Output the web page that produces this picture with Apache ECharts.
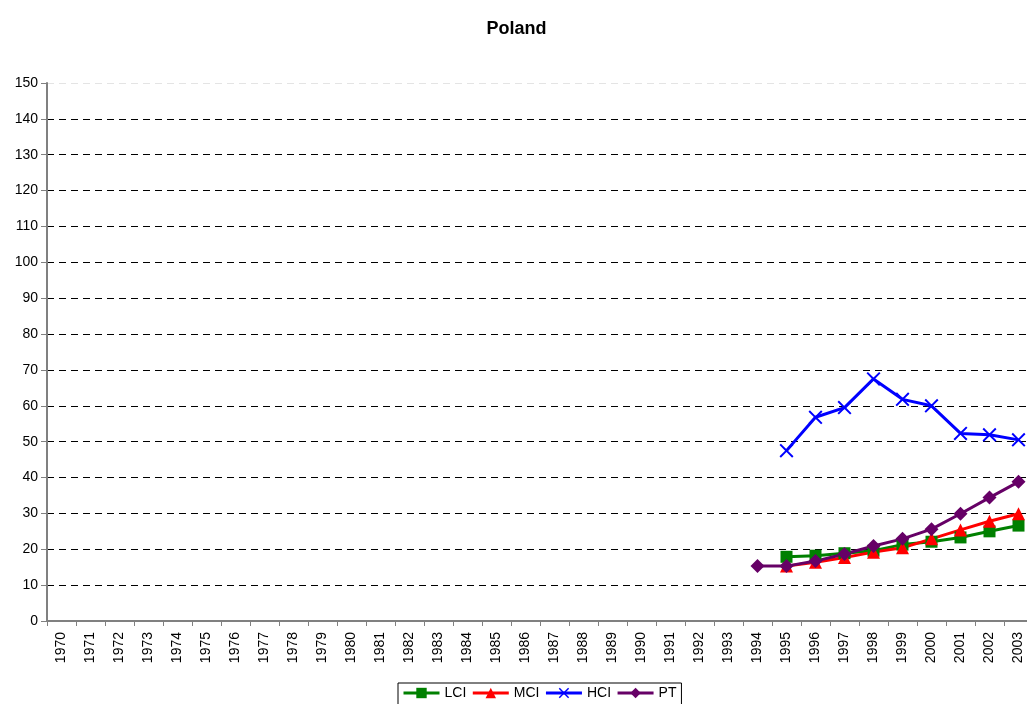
<!DOCTYPE html>
<html>
<head>
<meta charset="utf-8">
<script src="https://cdn.jsdelivr.net/npm/echarts@6/dist/echarts.min.js"></script>
<style>
  html, body { margin: 0; padding: 0; background: #fff; overflow: hidden; }
  #chart { width: 1033px; height: 704px; }
</style>
</head>
<body>
<div id="chart"></div>
<script>
// 年份 1970-2003
var years = [];
for (var y = 1970; y <= 2003; y++) years.push(String(y));

// 1994-2003 的数值，之前为空
var lci = [null, 17.9, 18.2, 18.9, 19.6, 21.3, 22.1, 23.3, 25.0, 26.6];
var mci = [null, 15.3, 16.4, 17.7, 19.2, 20.4, 22.9, 25.4, 27.8, 29.9];
var hci = [null, 47.5, 56.8, 59.5, 67.5, 61.8, 60.0, 52.3, 51.9, 50.5];
var pt  = [15.3, 15.3, 16.7, 18.7, 20.9, 22.9, 25.6, 29.9, 34.4, 38.8];

function pad(arr) {
  var out = [];
  for (var i = 0; i < years.length - arr.length; i++) out.push(null);
  return out.concat(arr);
}

var crossPath = 'path://M0,1 L1,0 L5,4 L9,0 L10,1 L6,5 L10,9 L9,10 L5,6 L1,10 L0,9 L4,5 Z';

// 分割线颜色：最上面一条很淡
var gridColors = [];
for (var k = 0; k < 15; k++) gridColors.push('#000');
gridColors.push('#e4e4e4');

(function () {
  var myChart = echarts.init(document.getElementById('chart'));
  var font = 'Liberation Sans, Arial, sans-serif';

  var option = {
    animation: false,
    textStyle: { fontFamily: font },
    title: {
      text: 'Poland',
      left: 'center',
      top: 15,
      textStyle: { fontSize: 18, fontWeight: 'bold', color: '#000', fontFamily: font }
    },
    legend: {
      top: 683,
      left: 398,
      itemWidth: 36,
      itemHeight: 13,
      itemGap: 5,
      padding: [3, 5, 6, 4],
      borderColor: '#000',
      borderWidth: 1,
      lineStyle: { width: 3 },
      textStyle: { fontSize: 14, color: '#000' },
      data: ['LCI', 'MCI', 'HCI', 'PT']
    },
    grid: {
      left: 47,
      right: 0,
      top: 83,
      bottom: 83,
      containLabel: false
    },
    xAxis: {
      type: 'category',
      data: years,
      boundaryGap: true,
      axisLine: { lineStyle: { color: '#808080', width: 2 } },
      axisTick: { show: true, length: 5, lineStyle: { color: '#808080' } },
      axisLabel: { rotate: 90, color: '#000', fontSize: 14, margin: 11, interval: 0 },
      splitLine: { show: false }
    },
    yAxis: {
      type: 'value',
      min: 0,
      max: 150,
      interval: 10,
      axisLine: { show: true, lineStyle: { color: '#808080', width: 2 } },
      axisTick: { show: true, length: 6, lineStyle: { color: '#808080' } },
      axisLabel: { color: '#000', fontSize: 14, margin: 9 },
      splitLine: { lineStyle: { color: gridColors, type: [7, 5], width: 1 } }
    },
    series: [
      {
        name: 'LCI', type: 'line', data: pad(lci),
        symbol: 'rect', symbolSize: 12,
        lineStyle: { color: '#008000', width: 3 },
        itemStyle: { color: '#008000' }
      },
      {
        name: 'MCI', type: 'line', data: pad(mci),
        symbol: 'triangle', symbolSize: 13,
        lineStyle: { color: '#ff0000', width: 3 },
        itemStyle: { color: '#ff0000' }
      },
      {
        name: 'HCI', type: 'line', data: pad(hci),
        symbol: crossPath, symbolSize: 14,
        lineStyle: { color: '#0000ff', width: 3 },
        itemStyle: { color: '#0000ff' }
      },
      {
        name: 'PT', type: 'line', data: pad(pt),
        symbol: 'diamond', symbolSize: 14,
        lineStyle: { color: '#660066', width: 3 },
        itemStyle: { color: '#660066' }
      }
    ]
  };

  myChart.setOption(option);

  window.addEventListener('resize', function () {
    myChart.resize();
  });
})();
</script>
</body>
</html>
